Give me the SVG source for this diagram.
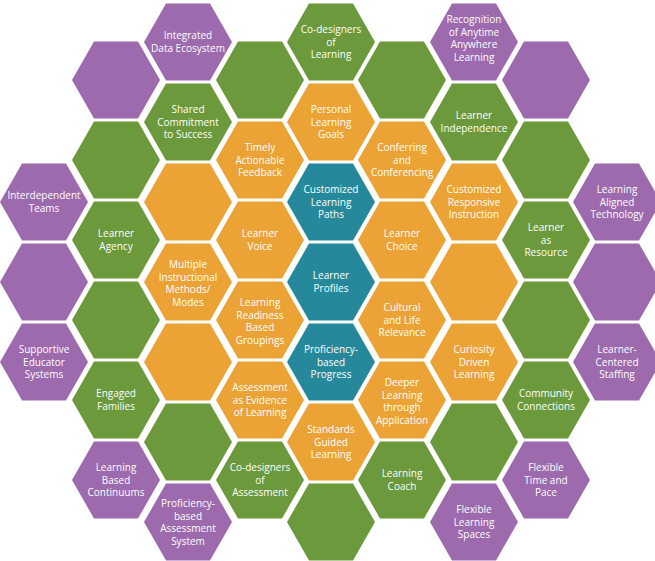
<svg xmlns="http://www.w3.org/2000/svg" xmlns:xlink="http://www.w3.org/1999/xlink" width="655" height="561" viewBox="0 0 655 561">
<defs>
<style>
.p{fill:#9c6aad}.g{fill:#6b993b}.o{fill:#eba336}.t{fill:#26899b}
text{font-family:"Open Sans","Liberation Sans",sans-serif;font-size:10px;fill:#fff;text-anchor:middle}
</style>
<polygon id="h" points="-44,0 -22,-38.5 22,-38.5 44,0 22,38.5 -22,38.5"/>
</defs>
<g id="c0">
<g id="n_interdependent"><use href="#h" class="p" x="44" y="202"/><text><tspan x="44" y="199">Interdependent</tspan><tspan x="44" dy="12.5">Teams</tspan></text></g>
<g id="n_c0b"><use href="#h" class="p" x="44" y="282"/></g>
<g id="n_supportive"><use href="#h" class="p" x="44" y="362"/><text><tspan x="44" y="353">Supportive</tspan><tspan x="44" dy="12.5">Educator</tspan><tspan x="44" dy="12.5">Systems</tspan></text></g>
</g>
<g id="c1">
<g id="n_c1a"><use href="#h" class="p" x="116" y="80"/></g>
<g id="n_c1b"><use href="#h" class="g" x="116" y="160"/></g>
<g id="n_agency"><use href="#h" class="g" x="116" y="240"/><text><tspan x="116" y="237">Learner</tspan><tspan x="116" dy="12.5">Agency</tspan></text></g>
<g id="n_c1d"><use href="#h" class="g" x="116" y="320"/></g>
<g id="n_engaged"><use href="#h" class="g" x="116" y="400"/><text><tspan x="116" y="397">Engaged</tspan><tspan x="116" dy="12.5">Families</tspan></text></g>
<g id="n_continuums"><use href="#h" class="p" x="116" y="480"/><text><tspan x="116" y="471">Learning</tspan><tspan x="116" dy="12.5">Based</tspan><tspan x="116" dy="12.5">Continuums</tspan></text></g>
</g>
<g id="c2">
<g id="n_integrated"><use href="#h" class="p" x="188" y="42"/><text><tspan x="188" y="39">Integrated</tspan><tspan x="188" dy="12.5">Data Ecosystem</tspan></text></g>
<g id="n_shared"><use href="#h" class="g" x="188" y="122"/><text><tspan x="188" y="113">Shared</tspan><tspan x="188" dy="12.5">Commitment</tspan><tspan x="188" dy="12.5">to Success</tspan></text></g>
<g id="n_c2c"><use href="#h" class="o" x="188" y="202"/></g>
<g id="n_multiple"><use href="#h" class="o" x="188" y="282"/><text><tspan x="188" y="268">Multiple</tspan><tspan x="188" dy="12.5">Instructional</tspan><tspan x="188" dy="12.5">Methods/</tspan><tspan x="188" dy="12.5">Modes</tspan></text></g>
<g id="n_c2e"><use href="#h" class="o" x="188" y="362"/></g>
<g id="n_c2f"><use href="#h" class="g" x="188" y="442"/></g>
<g id="n_pbas"><use href="#h" class="p" x="188" y="522"/><text><tspan x="188" y="507">Proficiency-</tspan><tspan x="188" dy="12.5">based</tspan><tspan x="188" dy="12.5">Assessment</tspan><tspan x="188" dy="12.5">System</tspan></text></g>
</g>
<g id="c3">
<g id="n_c3a"><use href="#h" class="g" x="260" y="80"/></g>
<g id="n_timely"><use href="#h" class="o" x="260" y="160"/><text><tspan x="260" y="151">Timely</tspan><tspan x="260" dy="12.5">Actionable</tspan><tspan x="260" dy="12.5">Feedback</tspan></text></g>
<g id="n_voice"><use href="#h" class="o" x="260" y="240"/><text><tspan x="260" y="237">Learner</tspan><tspan x="260" dy="12.5">Voice</tspan></text></g>
<g id="n_readiness"><use href="#h" class="o" x="260" y="320"/><text><tspan x="260" y="306">Learning</tspan><tspan x="260" dy="12.5">Readiness</tspan><tspan x="260" dy="12.5">Based</tspan><tspan x="260" dy="12.5">Groupings</tspan></text></g>
<g id="n_assess_ev"><use href="#h" class="o" x="260" y="400"/><text><tspan x="260" y="391">Assessment</tspan><tspan x="260" dy="12.5">as Evidence</tspan><tspan x="260" dy="12.5">of Learning</tspan></text></g>
<g id="n_codes_assess"><use href="#h" class="g" x="260" y="480"/><text><tspan x="260" y="471">Co-designers</tspan><tspan x="260" dy="12.5">of</tspan><tspan x="260" dy="12.5">Assessment</tspan></text></g>
</g>
<g id="c4">
<g id="n_codes_learn"><use href="#h" class="g" x="331" y="42"/><text><tspan x="331" y="33">Co-designers</tspan><tspan x="331" dy="12.5">of</tspan><tspan x="331" dy="12.5">Learning</tspan></text></g>
<g id="n_personal"><use href="#h" class="o" x="331" y="122"/><text><tspan x="331" y="113">Personal</tspan><tspan x="331" dy="12.5">Learning</tspan><tspan x="331" dy="12.5">Goals</tspan></text></g>
<g id="n_paths"><use href="#h" class="t" x="331" y="202"/><text><tspan x="331" y="193">Customized</tspan><tspan x="331" dy="12.5">Learning</tspan><tspan x="331" dy="12.5">Paths</tspan></text></g>
<g id="n_profiles"><use href="#h" class="t" x="331" y="282"/><text><tspan x="331" y="279">Learner</tspan><tspan x="331" dy="12.5">Profiles</tspan></text></g>
<g id="n_progress"><use href="#h" class="t" x="331" y="362"/><text><tspan x="331" y="353">Proficiency-</tspan><tspan x="331" dy="12.5">based</tspan><tspan x="331" dy="12.5">Progress</tspan></text></g>
<g id="n_standards"><use href="#h" class="o" x="331" y="442"/><text><tspan x="331" y="433">Standards</tspan><tspan x="331" dy="12.5">Guided</tspan><tspan x="331" dy="12.5">Learning</tspan></text></g>
<g id="n_c4g"><use href="#h" class="g" x="331" y="522"/></g>
</g>
<g id="c5">
<g id="n_c5a"><use href="#h" class="g" x="402" y="80"/></g>
<g id="n_conferring"><use href="#h" class="o" x="402" y="160"/><text><tspan x="402" y="151">Conferring</tspan><tspan x="402" dy="12.5">and</tspan><tspan x="402" dy="12.5">Conferencing</tspan></text></g>
<g id="n_choice"><use href="#h" class="o" x="402" y="240"/><text><tspan x="402" y="237">Learner</tspan><tspan x="402" dy="12.5">Choice</tspan></text></g>
<g id="n_cultural"><use href="#h" class="o" x="402" y="320"/><text><tspan x="402" y="311">Cultural</tspan><tspan x="402" dy="12.5">and Life</tspan><tspan x="402" dy="12.5">Relevance</tspan></text></g>
<g id="n_deeper"><use href="#h" class="o" x="402" y="400"/><text><tspan x="402" y="386">Deeper</tspan><tspan x="402" dy="12.5">Learning</tspan><tspan x="402" dy="12.5">through</tspan><tspan x="402" dy="12.5">Application</tspan></text></g>
<g id="n_coach"><use href="#h" class="g" x="402" y="480"/><text><tspan x="402" y="477">Learning</tspan><tspan x="402" dy="12.5">Coach</tspan></text></g>
</g>
<g id="c6">
<g id="n_recognition"><use href="#h" class="p" x="474" y="42"/><text><tspan x="474" y="23">Recognition</tspan><tspan x="474" dy="12.5">of Anytime</tspan><tspan x="474" dy="12.5">Anywhere</tspan><tspan x="474" dy="12.5">Learning</tspan></text></g>
<g id="n_independence"><use href="#h" class="g" x="474" y="122"/><text><tspan x="474" y="119">Learner</tspan><tspan x="474" dy="12.5">Independence</tspan></text></g>
<g id="n_responsive"><use href="#h" class="o" x="474" y="202"/><text><tspan x="474" y="193">Customized</tspan><tspan x="474" dy="12.5">Responsive</tspan><tspan x="474" dy="12.5">Instruction</tspan></text></g>
<g id="n_c6d"><use href="#h" class="o" x="474" y="282"/></g>
<g id="n_curiosity"><use href="#h" class="o" x="474" y="362"/><text><tspan x="474" y="353">Curiosity</tspan><tspan x="474" dy="12.5">Driven</tspan><tspan x="474" dy="12.5">Learning</tspan></text></g>
<g id="n_c6f"><use href="#h" class="g" x="474" y="442"/></g>
<g id="n_spaces"><use href="#h" class="p" x="474" y="522"/><text><tspan x="474" y="513">Flexible</tspan><tspan x="474" dy="12.5">Learning</tspan><tspan x="474" dy="12.5">Spaces</tspan></text></g>
</g>
<g id="c7">
<g id="n_c7a"><use href="#h" class="p" x="546" y="80"/></g>
<g id="n_c7b"><use href="#h" class="g" x="546" y="160"/></g>
<g id="n_resource"><use href="#h" class="g" x="546" y="240"/><text><tspan x="546" y="231">Learner</tspan><tspan x="546" dy="12.5">as</tspan><tspan x="546" dy="12.5">Resource</tspan></text></g>
<g id="n_c7d"><use href="#h" class="g" x="546" y="320"/></g>
<g id="n_community"><use href="#h" class="g" x="546" y="400"/><text><tspan x="546" y="397">Community</tspan><tspan x="546" dy="12.5">Connections</tspan></text></g>
<g id="n_time"><use href="#h" class="p" x="546" y="480"/><text><tspan x="546" y="471">Flexible</tspan><tspan x="546" dy="12.5">Time and</tspan><tspan x="546" dy="12.5">Pace</tspan></text></g>
</g>
<g id="c8">
<g id="n_technology"><use href="#h" class="p" x="617" y="202"/><text><tspan x="617" y="193">Learning</tspan><tspan x="617" dy="12.5">Aligned</tspan><tspan x="617" dy="12.5">Technology</tspan></text></g>
<g id="n_c8b"><use href="#h" class="p" x="617" y="282"/></g>
<g id="n_staffing"><use href="#h" class="p" x="617" y="362"/><text><tspan x="617" y="353">Learner-</tspan><tspan x="617" dy="12.5">Centered</tspan><tspan x="617" dy="12.5">Staffing</tspan></text></g>
</g>
<g id="connectors"/>
</svg>
